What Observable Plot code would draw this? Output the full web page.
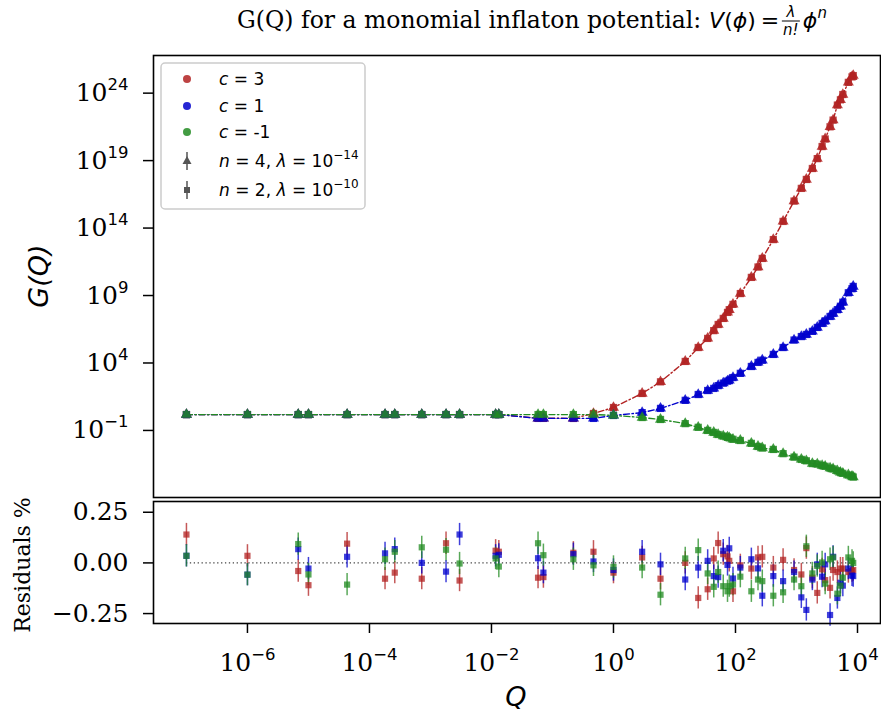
<!DOCTYPE html>
<html><head><meta charset="utf-8">
<script src="https://cdn.jsdelivr.net/npm/d3@7"></script>
<script src="https://cdn.jsdelivr.net/npm/@observablehq/plot@0.6"></script>
<style>
body{margin:0;background:#fff;}
#wrap{position:relative;width:881px;height:713px;overflow:hidden;background:#fff;}
#wrap > svg{position:absolute;left:0;}
</style></head><body><div id="wrap"></div>
<script>
// ---- data ----
const Q = [1e-7, 1e-6, 6.8e-6, 1e-5, 4.3e-5, 1.8e-4, 2.6e-4, 7.2e-4, 1.8e-3, 3.0e-3, 1.17e-2, 1.32e-2,
  5.8e-2, 7.1e-2, 0.22, 0.47, 1, 2.95, 5.9, 15, 24.5, 35, 44, 52, 63, 74, 79, 91, 120, 182, 234, 275,
  417, 603, 912, 1200, 1450, 1820, 2190, 2630, 2950, 3550, 3980, 4680, 5250, 5750, 7080, 8130, 8510];

const G_c3 = [1.5, 1.5, 1.5, 1.5, 1.5, 1.5, 1.5, 1.5, 1.5, 1.5, 1.5, 1.5,
  0.81, 0.81, 0.78, 1.8, 5.0, 55, 400, 1.3e4, 1.4e5, 6.6e5, 2.5e6, 7.1e6, 2.0e7, 5.6e7, 8.9e7, 2.2e8,
  1.4e9, 2.2e10, 1.3e11, 5.6e11, 1.4e13, 3.1e14, 1.0e16, 8.7e16, 4.0e17, 2.6e18, 1.4e19, 1.1e20,
  4.0e20, 3.2e21, 1.0e22, 1.3e23, 3.2e23, 7.9e23, 6.3e24, 1.6e25, 2.0e25];
const G_c1 = [1.5, 1.5, 1.5, 1.5, 1.5, 1.5, 1.5, 1.5, 1.5, 1.5, 1.5, 1.5,
  0.78, 0.78, 0.78, 0.78, 1.3, 2.1, 4.3, 17, 46, 91, 130, 210, 320, 450, 520, 830,
  1700, 5500, 1.1e4, 1.6e4, 4.3e4, 1.4e5, 5.0e5, 9.1e5, 1.3e6, 2.2e6, 4.3e6, 8.5e6,
  1.3e7, 2.8e7, 4.7e7, 8.9e7, 1.6e8, 3.2e8, 1.6e9, 3.2e9, 4.7e9];
const G_cm1 = [1.5, 1.5, 1.5, 1.5, 1.5, 1.5, 1.5, 1.5, 1.5, 1.5, 1.5, 1.5,
  1.5, 1.5, 1.5, 1.5, 1.3, 0.91, 0.65, 0.32, 0.17, 0.1, 0.071, 0.05, 0.038, 0.032, 0.028, 0.022,
  0.018, 0.011, 0.0065, 0.005, 0.0039, 0.0019, 0.00105, 7.1e-4, 5.6e-4, 3.5e-4, 3.2e-4, 2.5e-4,
  2.2e-4, 1.6e-4, 1.4e-4, 1.0e-4, 7.9e-5, 6.6e-5, 5.0e-5, 4.0e-5, 3.5e-5];

const R_c3 = [0.14, 0.035, -0.04, -0.11, 0.095, -0.078, -0.048, -0.078, 0.097, -0.087, 0.06, 0.055,
  -0.073, -0.07, 0.05, 0.055, -0.048, 0.027, -0.078, 0, -0.173, -0.13, 0.022, 0.098, 0.043, 0.032, 0.01, -0.14,
  -0.012, -0.028, 0.027, 0.03, -0.023, 0.015, -0.035, -0.057, 0.073, -0.073, -0.148, -0.032,
  -0.085, -0.123, -0.035, -0.045, -0.028, -0.028, -0.045, -0.04, -0.035];
const R_c1 = [0.035, -0.058, 0.068, -0.028, 0.03, 0.047, 0.068, 0, -0.043, 0.14, 0.035, 0.04,
  0.023, -0.048, 0.043, 0.007, -0.035, 0.055, -0.007, -0.082, -0.023, 0.01, -0.065, -0.07, 0.06, -0.01, 0.072, -0.077,
  -0.023, 0.018, -0.027, -0.162, -0.065, -0.09, -0.045, -0.17, -0.232, -0.082, -0.007, -0.068,
  -0.007, -0.257, 0.03, -0.173, -0.098, -0.112, -0.028, -0.062, -0.065];
const R_cm1 = [0.035, -0.058, 0.093, -0.057, -0.107, 0.018, 0.055, 0.077, 0.065, -0.003, 0.022, -0.018,
  0.097, 0.038, 0.018, -0.012, -0.02, -0.023, -0.157, 0.022, 0.063, -0.052, -0.118, -0.045, -0.115, -0.14, -0.115, -0.107,
  -0.068, -0.14, -0.082, -0.09, -0.162, -0.145, -0.082, -0.115, 0.082, -0.052, -0.015, 0.002,
  -0.102, 0.018, 0.027, -0.152, -0.112, -0.073, 0.027, 0.01, 0];
const resErr = [0.055, 0.055, 0.055]; // error bar half-width per series (c=3, c=1, c=-1)

const seriesKeys = ["c = 3", "c = 1", "c = -1"];
const seriesColors = ["#b22222", "#0000cd", "#228b22"];
const xTicks = [1e-6, 1e-4, 1e-2, 1, 1e2, 1e4];
const yTicks = [1e-1, 1e4, 1e9, 1e14, 1e19, 1e24];
const rTicks = [-0.25, 0, 0.25];
const legendLabels = ["c = 3", "c = 1", "c = -1", "n = 4, λ = 10^−14", "n = 2, λ = 10^−10"];

// ---- build table ----
const Gs = [G_c3, G_c1, G_cm1], Rs = [R_c3, R_c1, R_cm1];
const rows = seriesKeys.flatMap((k, s) => Q.map((q, i) => ({Q: q, G: Gs[s][i], R: Rs[s][i], e: resErr[s], c: k})));

const xDomain = [10 ** -7.54, 10 ** 4.377];
const logFmt = d => "10^" + Math.round(Math.log10(d));
const color = {domain: seriesKeys, range: seriesColors};
const baseStyle = {fontFamily: "DejaVu Serif", fontSize: "25px", color: "black", overflow: "visible", background: "transparent"};

const topPlot = Plot.plot({
  width: 881, height: 498,
  marginTop: 55, marginBottom: 1, marginLeft: 153, marginRight: 1,
  x: {type: "log", domain: xDomain, axis: null},
  y: {type: "log", domain: [10 ** -5.97, 10 ** 26.79]},
  color,
  style: baseStyle,
  marks: [
    Plot.axisY({ticks: yTicks, tickFormat: logFmt, tickSize: 10, tickPadding: 15, strokeWidth: 1.5, label: null}),
    Plot.line(rows, {x: "Q", y: "G", z: "c", stroke: "c", strokeWidth: 1.4, strokeDasharray: "6,2.5,1.5,2.5"}),
    Plot.dot(rows, {x: "Q", y: "G", fill: "c", symbol: "square", r: 4.1, fillOpacity: 0.85}),
    Plot.dot(rows, {x: "Q", y: "G", fill: "c", symbol: "triangle", r: 4.1, fillOpacity: 0.85}),
    Plot.frame({stroke: "black", strokeWidth: 1.6})
  ]
});

const bottomPlot = Plot.plot({
  width: 881, height: 215,
  marginTop: 3, marginBottom: 90, marginLeft: 153, marginRight: 1,
  x: {type: "log", domain: xDomain},
  y: {domain: [-0.299, 0.303]},
  color,
  style: baseStyle,
  marks: [
    Plot.axisY({ticks: rTicks, tickFormat: ".2f", tickSize: 10, tickPadding: 15, strokeWidth: 1.5, label: null}),
    Plot.axisX({ticks: xTicks, tickFormat: logFmt, tickSize: 10, tickPadding: 20, strokeWidth: 1.5, label: null}),
    Plot.ruleY([0], {x1: d3.min(Q), x2: d3.max(Q), stroke: "#444", strokeWidth: 1.3, strokeDasharray: "1.3,2.6"}),
    Plot.ruleX(rows, {x: "Q", y1: d => d.R - d.e, y2: d => d.R + d.e, stroke: "c", strokeWidth: 1.5, strokeOpacity: 0.75}),
    Plot.dot(rows, {x: "Q", y: "R", fill: "c", symbol: "square", r: 3.5, fillOpacity: 0.75}),
    Plot.frame({stroke: "black", strokeWidth: 1.6})
  ]
});

const NS = "http://www.w3.org/2000/svg";
function supTicks(svg) {
  svg.querySelectorAll('g[aria-label$="tick label"] text').forEach(t => {
    const m = t.textContent.match(/^10\^(.+)$/);
    if (!m) return;
    while (t.firstChild) t.removeChild(t.firstChild);
    t.appendChild(document.createTextNode("10"));
    const sp = document.createElementNS(NS, "tspan");
    sp.setAttribute("dy", "-11");
    sp.setAttribute("font-size", "16.5");
    sp.setAttribute("font-family", "DejaVu Sans");
    sp.textContent = m[1].replace("-", "−");
    t.appendChild(sp);
  });
}
supTicks(topPlot); supTicks(bottomPlot);

const wrap = document.getElementById("wrap");
topPlot.style.top = "0px"; topPlot.style.width = "881px";
bottomPlot.style.top = "498px"; bottomPlot.style.width = "881px";
wrap.appendChild(topPlot); wrap.appendChild(bottomPlot);

// ---- overlay: title, axis labels, legend ----
const ov = d3.select(wrap).append("svg").attr("width", 881).attr("height", 713).style("top", "0px").style("pointer-events", "none");

// title
const tg = ov.append("g");
const t1 = tg.append("text").attr("font-family", "DejaVu Serif").attr("font-size", 23.5).attr("y", 28).text("G(Q) for a monomial inflaton potential:");
const w1 = t1.node().getComputedTextLength() + 8;
const mathG = tg.append("g");
const mt = mathG.append("text").attr("font-family", "DejaVu Sans").attr("font-size", 22).attr("y", 28);
mt.append("tspan").attr("font-style", "italic").text("V");
mt.append("tspan").text("(");
mt.append("tspan").attr("font-style", "italic").text("ϕ");
mt.append("tspan").text(")");
const wm0 = mt.node().getComputedTextLength();
mathG.append("text").attr("font-family", "DejaVu Sans").attr("font-size", 22).attr("y", 28).attr("x", wm0 + 5).text("=");
const wm = wm0 + 5 + 18 + 3;
const fr = mathG.append("g").attr("transform", `translate(${wm},0)`);
fr.append("text").attr("font-family", "DejaVu Sans").attr("font-style", "italic").attr("font-size", 15).attr("x", 9).attr("y", 17).attr("text-anchor", "middle").text("λ");
fr.append("line").attr("x1", 0).attr("x2", 18).attr("y1", 21).attr("y2", 21).attr("stroke", "black").attr("stroke-width", 1);
fr.append("text").attr("font-family", "DejaVu Sans").attr("font-style", "italic").attr("font-size", 15).attr("x", 9).attr("y", 35).attr("text-anchor", "middle").text("n!");
const ph = mathG.append("text").attr("font-family", "DejaVu Sans").attr("font-size", 22).attr("y", 28).attr("x", wm + 21);
ph.append("tspan").attr("font-style", "italic").text("ϕ");
ph.append("tspan").attr("font-style", "italic").attr("font-size", 15).attr("dy", -10).text("n");
const totalW = w1 + wm + 21 + ph.node().getComputedTextLength();
const x0 = 532 - totalW / 2;
t1.attr("x", x0);
mathG.attr("transform", `translate(${x0 + w1},0)`);

// axis labels
ov.append("text").attr("transform", "translate(48,276) rotate(-90)").attr("text-anchor", "middle")
  .attr("font-family", "DejaVu Sans").attr("font-style", "italic").attr("font-size", 27).text("G(Q)");
ov.append("text").attr("transform", "translate(30,565) rotate(-90)").attr("text-anchor", "middle")
  .attr("font-family", "DejaVu Serif").attr("font-size", 22).text("Residuals %");
ov.append("text").attr("x", 516).attr("y", 706).attr("text-anchor", "middle")
  .attr("font-family", "DejaVu Sans").attr("font-style", "italic").attr("font-size", 27).text("Q");

// legend
const lg = ov.append("g");
lg.append("rect").attr("x", 161).attr("y", 63).attr("width", 204).attr("height", 146).attr("rx", 4)
  .attr("fill", "white").attr("fill-opacity", 0.85).attr("stroke", "#cccccc").attr("stroke-width", 1.5);
const rowsY = [79, 106, 132, 161, 190];
rowsY.forEach((yy, i) => {
  if (i < 3) {
    lg.append("circle").attr("cx", 187).attr("cy", yy).attr("r", 4).attr("fill", seriesColors[i]).attr("fill-opacity", 0.85);
  } else {
    lg.append("line").attr("x1", 187).attr("x2", 187).attr("y1", yy - 9).attr("y2", yy + 9).attr("stroke", "#555").attr("stroke-width", 1.5);
    if (i === 3) lg.append("path").attr("d", `M187,${yy - 5}L191.5,${yy + 3}L182.5,${yy + 3}Z`).attr("fill", "#555");
    else lg.append("rect").attr("x", 184).attr("y", yy - 3).attr("width", 6).attr("height", 6).attr("fill", "#555");
  }
  const tx = lg.append("text").attr("x", 219).attr("y", yy + 6).attr("font-family", "DejaVu Sans").attr("font-size", 17);
  const lab = legendLabels[i];
  const m = lab.match(/^(\w) = ([^,]+)(?:, λ = 10\^(.+))?$/);
  tx.append("tspan").attr("font-style", "italic").text(m[1]);
  tx.append("tspan").text(" = " + m[2]);
  if (m[3]) {
    tx.append("tspan").text(", ");
    tx.append("tspan").attr("font-style", "italic").text("λ");
    tx.append("tspan").text(" = 10");
    tx.append("tspan").attr("font-size", 12).attr("dy", -8).text(m[3]);
  }
});
</script></body></html>
